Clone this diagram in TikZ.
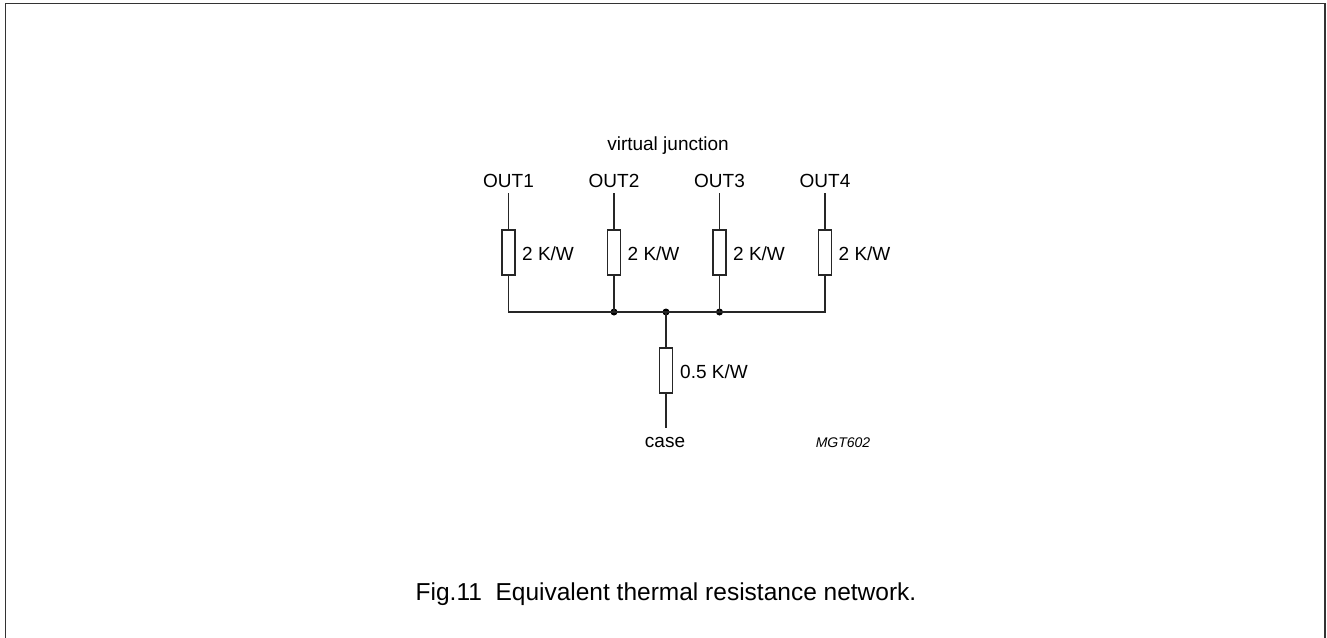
\documentclass[tikz,border=0pt]{standalone}
\usepackage{fontspec}
\setmainfont{Liberation Sans}
\begin{document}
\begin{tikzpicture}[x=1pt,y=-1pt,
 wire/.style={line width=1.3pt, draw=black!85},
 res/.style={draw=black!85, line width=1.3pt, rectangle, minimum width=13pt, minimum height=45pt, inner sep=0pt, fill=white},
 lbl/.style={font=\fontsize{19}{21}\selectfont, inner sep=0pt, anchor=base},
 vlbl/.style={font=\fontsize{19}{21}\selectfont, inner sep=0pt, anchor=base west},
 jdot/.style={circle, fill=black, inner sep=0pt, minimum size=7pt}]
\useasboundingbox (0,0) rectangle (1327,637);
\draw[line width=1.8pt, draw=black!80] (5.5,640) -- (5.5,3.5) -- (1325,3.5) -- (1325,640);
% resistors
\node[res] (r1) at (508.5,252.5) {};
\node[res] (r2) at (614,252.5) {};
\node[res] (r3) at (719.5,252.5) {};
\node[res] (r4) at (825,252.5) {};
\node[res] (r5) at (666,370.5) {};
% terminals
\coordinate (t1) at (508.5,193);
\coordinate (t2) at (614,193);
\coordinate (t3) at (719.5,193);
\coordinate (t4) at (825,193);
\coordinate (c1) at (508.5,312);
\coordinate (c4) at (825,312);
\coordinate (bot) at (666,428);
\node[jdot] (j2) at (614,312) {};
\node[jdot] (j3) at (719.5,312) {};
\node[jdot] (jm) at (666,312) {};
% wires
\draw[wire] (t1) -- (r1.north);
\draw[wire] (t2) -- (r2.north);
\draw[wire] (t3) -- (r3.north);
\draw[wire] (t4) -- (r4.north);
\draw[wire] (r1.south) -- (c1) -- (c4) -- (r4.south);
\draw[wire] (r2.south) -- (j2.center);
\draw[wire] (r3.south) -- (j3.center);
\draw[wire] (jm.center) -- (r5.north);
\draw[wire] (r5.south) -- (bot);
% labels
\node[lbl] (vj) at (668,150) {virtual junction};
\node[lbl] (o1) at (508.5,187) {OUT1};
\node[lbl] (o2) at (614,187) {OUT2};
\node[lbl] (o3) at (719.5,187) {OUT3};
\node[lbl] (o4) at (825,187) {OUT4};
\node[vlbl] (l1) at (522,260) {2 K/W};
\node[vlbl] (l2) at (627.5,260) {2 K/W};
\node[vlbl] (l3) at (733,260) {2 K/W};
\node[vlbl] (l4) at (838.5,260) {2 K/W};
\node[vlbl] (l5) at (680,378) {0.5 K/W};
\node[lbl] (cs) at (665,447) {case};
\node[lbl, font=\fontsize{14}{16}\selectfont\itshape] (mgt) at (843,447) {MGT602};
\node[lbl, font=\fontsize{24.5}{28}\selectfont] (cap) at (666,600) {Fig.11~~Equivalent thermal resistance network.};
\end{tikzpicture}
\end{document}
